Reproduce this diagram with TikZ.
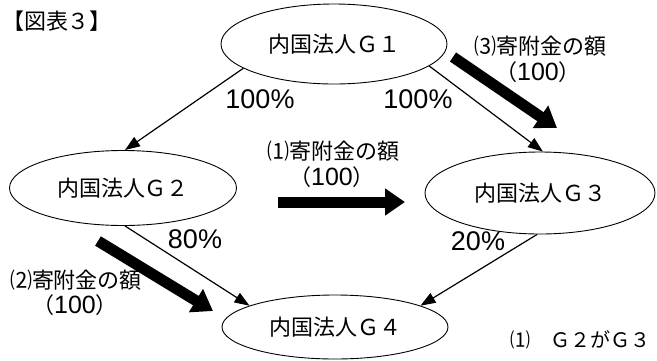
\documentclass[tikz,border=0pt]{standalone}
\usepackage{fontspec}
\setmainfont{Liberation Sans}
\newfontfamily\jp{Noto Sans CJK JP}
\usetikzlibrary{shapes.geometric,arrows.meta}
\newcommand{\hyaku}{{\rmfamily\fontsize{25}{25}\selectfont 100}}
\begin{document}
\begin{tikzpicture}[x=1pt,y=-1pt,
  corp/.style={draw, ellipse, line width=0.9pt, inner sep=0pt, font=\jp\fontsize{22}{22}\selectfont},
  link/.style={line width=1.2pt, -{Triangle[length=15pt,width=11pt]}},
  gift/.style={line width=11pt, -{Triangle[length=20pt,width=26pt]}},
  lbl/.style={font=\jp\fontsize{22}{22}\selectfont, inner sep=0pt},
  pct/.style={font=\fontsize{27}{27}\selectfont, inner sep=0pt}]
\useasboundingbox (0,0) rectangle (657,360);
\node[lbl, font=\jp\fontsize{22}{22}\selectfont] (title) at (57,21) {【図表３】};
\node[corp, minimum width=226pt, minimum height=80pt] (G1) at (334,44) {内国法人Ｇ１};
\node[corp, minimum width=227pt, minimum height=75pt] (G2) at (123,188) {内国法人Ｇ２};
\node[corp, minimum width=230pt, minimum height=82pt] (G3) at (540,193) {内国法人Ｇ３};
\node[corp, minimum width=226pt, minimum height=64pt] (G4) at (335,327) {内国法人Ｇ４};
\draw[link] (G1.195.5) -- (G2.87);
\draw[link] (G1.-13.5) -- (G3.86);
\draw[link] (G2.-87) -- (G4.166);
\draw[link] (G3.-94) -- (G4.14);
\node[pct] (p1) at (260,99) {100\%};
\node[pct] (p2) at (418,99) {100\%};
\node[pct] (p3) at (195,239) {80\%};
\node[pct] (p4) at (478,241) {20\%};
\coordinate (a3s) at (453,57); \coordinate (a3e) at (557,128);
\coordinate (a1s) at (278,202); \coordinate (a1e) at (405,202);
\coordinate (a2s) at (98,241); \coordinate (a2e) at (213,311);
\draw[gift] (a3s) -- (a3e);
\draw[gift] (a1s) -- (a1e);
\draw[gift] (a2s) -- (a2e);
\node[lbl] (t3) at (540,46) {⑶寄附金の額};
\node[lbl] (v3) at (538,72) {（\hyaku）};
\node[lbl] (t1) at (333,151) {⑴寄附金の額};
\node[lbl] (v1) at (332,177) {（\hyaku）};
\node[lbl] (t2) at (76,280) {⑵寄附金の額};
\node[lbl] (v2) at (75,305) {（\hyaku）};
\node[lbl, anchor=west, font=\jp\fontsize{20}{20}\selectfont] (n1) at (510,340) {⑴　Ｇ２がＧ３};
\end{tikzpicture}
\end{document}
